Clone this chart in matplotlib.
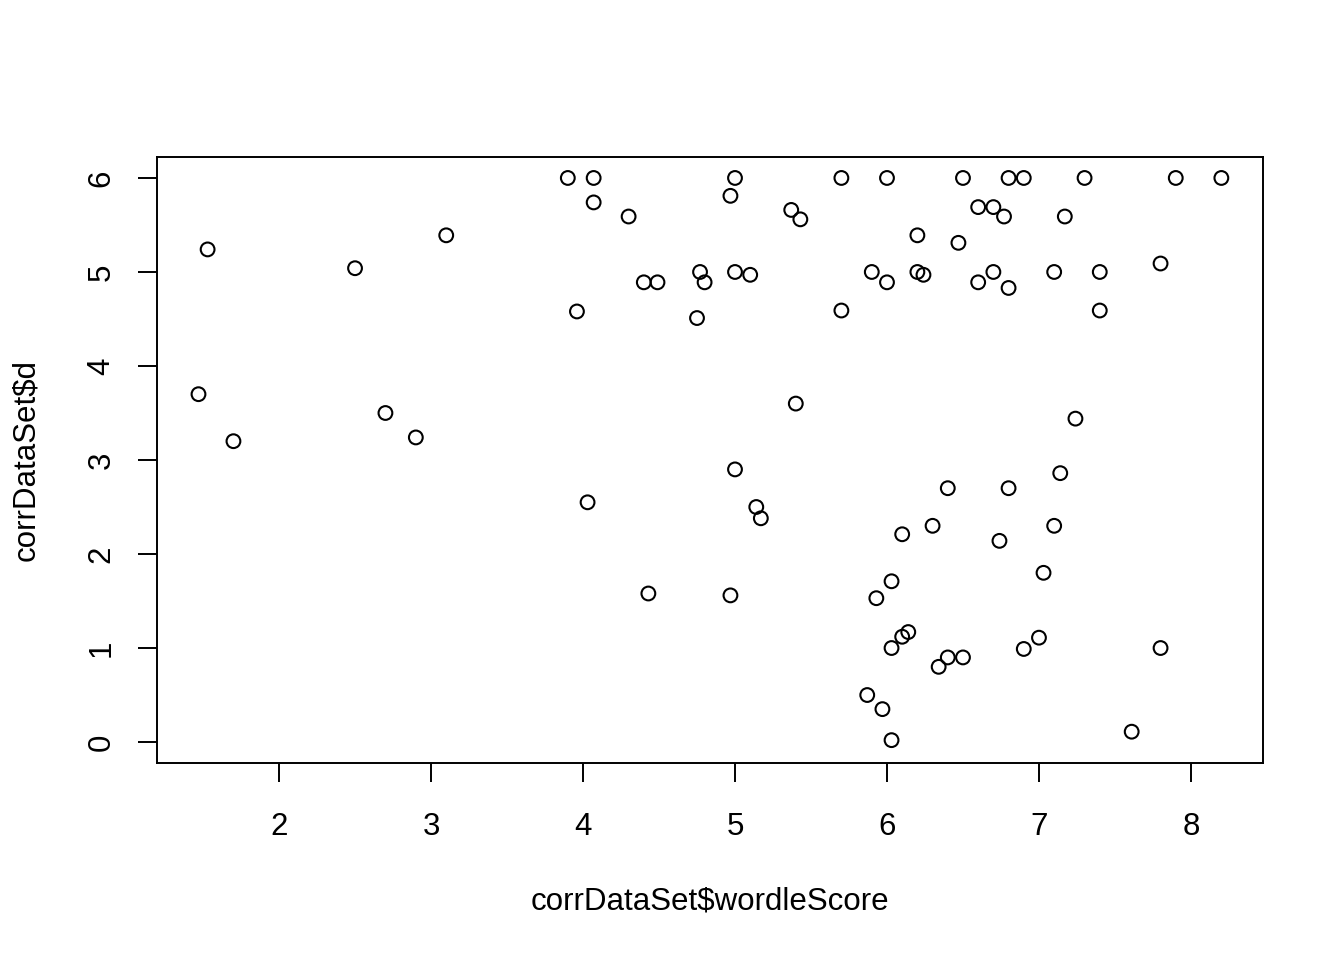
import matplotlib
matplotlib.use("Agg")
import matplotlib.pyplot as plt

wordle_score = [1.47, 1.53, 1.70, 2.50, 2.70, 2.90, 3.10, 3.90, 4.07, 4.07, 4.30, 3.96, 4.03,
                4.40, 4.49, 4.43, 4.75, 4.77, 4.80, 4.97, 5.00, 5.00, 5.10, 5.00, 4.97, 5.14,
                5.17, 5.37, 5.43, 5.40, 5.70, 5.70, 5.90, 6.00, 6.00, 6.20, 6.20, 6.24, 6.47,
                6.50, 6.60, 6.70, 6.77, 6.70, 6.60, 6.80, 6.80, 6.90, 7.30, 7.17, 7.10, 7.40,
                7.40, 7.80, 7.90, 8.20, 7.24, 7.14, 6.40, 6.80, 6.30, 7.10, 6.10, 6.74, 6.03,
                7.03, 5.93, 6.14, 6.10, 7.00, 6.03, 6.90, 7.80, 6.40, 6.50, 6.34, 5.87, 5.97,
                6.03, 7.61]
d_values = [3.70, 5.24, 3.20, 5.04, 3.50, 3.24, 5.39, 6.00, 6.00, 5.74, 5.59, 4.58, 2.55,
            4.89, 4.89, 1.58, 4.51, 5.00, 4.89, 5.81, 6.00, 5.00, 4.97, 2.90, 1.56, 2.50,
            2.38, 5.66, 5.56, 3.60, 6.00, 4.59, 5.00, 6.00, 4.89, 5.39, 5.00, 4.97, 5.31,
            6.00, 5.69, 5.69, 5.59, 5.00, 4.89, 4.83, 6.00, 6.00, 6.00, 5.59, 5.00, 5.00,
            4.59, 5.09, 6.00, 6.00, 3.44, 2.86, 2.70, 2.70, 2.30, 2.30, 2.21, 2.14, 1.71,
            1.80, 1.53, 1.17, 1.12, 1.11, 1.00, 0.99, 1.00, 0.90, 0.90, 0.80, 0.50, 0.35,
            0.02, 0.11]
x_ticks = [2, 3, 4, 5, 6, 7, 8]
y_ticks = [0, 1, 2, 3, 4, 5, 6]

plt.rcParams['font.family'] = ['Liberation Sans', 'DejaVu Sans']
fs = 22.5
fig = plt.figure(figsize=(13.44, 9.6), dpi=100)
ax = fig.add_axes([157/1344, 1-763/960, (1263-157)/1344, (763-157)/960])
ax.scatter(wordle_score, d_values, s=98, facecolors='none', edgecolors='black', linewidths=1.5)
ax.set_xlim(1.197, 8.474)
ax.set_ylim(-0.223, 6.223)
ax.set_xticks(x_ticks)
ax.set_yticks(y_ticks)
ax.set_xticklabels([str(t) for t in x_ticks], fontsize=fs)
ax.set_yticklabels([str(t) for t in y_ticks], fontsize=fs, rotation=90, va='center')
ax.tick_params(axis='both', length=14, width=1.4)
ax.tick_params(axis='x', pad=21)
ax.tick_params(axis='y', pad=15)
for s in ax.spines.values():
    s.set_linewidth(1.4)
ax.set_xlabel('corrDataSet$wordleScore', fontsize=fs, labelpad=32)
ax.set_ylabel('corrDataSet$d', fontsize=fs, labelpad=33)
fig.savefig('out.png', dpi=100)
